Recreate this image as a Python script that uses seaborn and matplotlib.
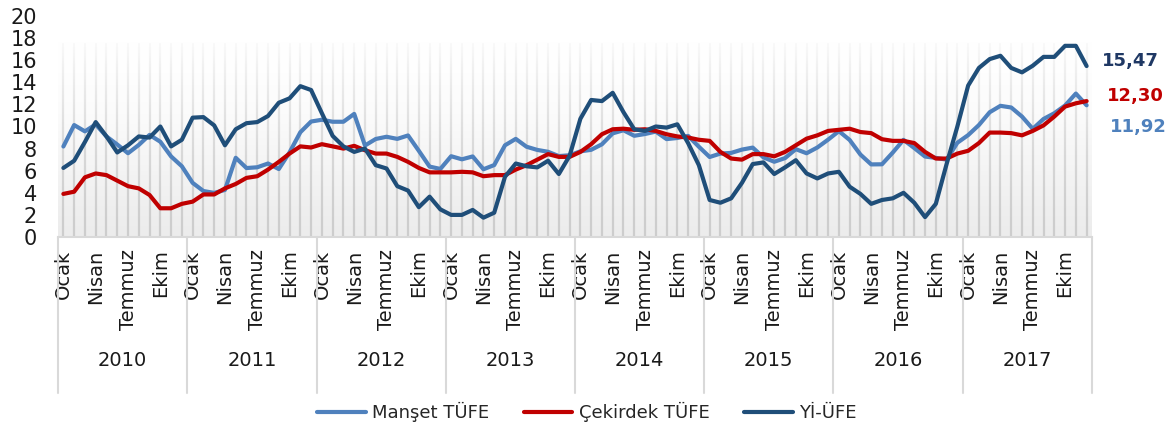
import numpy as np
import pandas as pd
import matplotlib
matplotlib.use("Agg")
import matplotlib.pyplot as plt
import matplotlib.transforms as mtransforms
from matplotlib.colors import LinearSegmentedColormap
from matplotlib.lines import Line2D
import seaborn as sns

## --------------- DATOS ------------- ##

yillar = [2010, 2011, 2012, 2013, 2014, 2015, 2016, 2017]
ay_etiketleri = ["Ocak", "Nisan", "Temmuz", "Ekim"]
seriler = ["Manşet TÜFE", "Çekirdek TÜFE", "Yİ-ÜFE"]

manset = [8.19, 10.13, 9.56, 10.19, 9.10, 8.37, 7.58, 8.33, 9.24, 8.62, 7.29, 6.40,
          4.90, 4.16, 3.99, 4.26, 7.17, 6.24, 6.31, 6.65, 6.15, 7.66, 9.48, 10.45,
          10.61, 10.43, 10.43, 11.14, 8.28, 8.87, 9.07, 8.88, 9.19, 7.80, 6.37, 6.16,
          7.31, 7.03, 7.29, 6.13, 6.51, 8.30, 8.88, 8.17, 7.88, 7.71, 7.32, 7.40,
          7.75, 7.89, 8.39, 9.38, 9.66, 9.16, 9.32, 9.54, 8.86, 8.96, 9.15, 8.17,
          7.24, 7.55, 7.61, 7.91, 8.09, 7.20, 6.81, 7.14, 7.95, 7.58, 8.10, 8.81,
          9.58, 8.78, 7.46, 6.57, 6.58, 7.64, 8.79, 8.05, 7.28, 7.16, 7.00, 8.53,
          9.22, 10.13, 11.29, 11.87, 11.72, 10.90, 9.79, 10.68, 11.20, 11.90, 12.98, 11.92]

cekirdek = [3.90, 4.10, 5.40, 5.75, 5.60, 5.10, 4.60, 4.40, 3.80, 2.60, 2.60, 3.00,
            3.20, 3.85, 3.85, 4.40, 4.80, 5.35, 5.50, 6.10, 6.80, 7.55, 8.20, 8.10,
            8.40, 8.20, 8.00, 8.25, 7.85, 7.55, 7.55, 7.25, 6.80, 6.25, 5.85, 5.85,
            5.85, 5.90, 5.85, 5.50, 5.60, 5.60, 6.10, 6.50, 7.00, 7.50, 7.25, 7.25,
            7.70, 8.40, 9.30, 9.75, 9.80, 9.70, 9.75, 9.60, 9.30, 9.10, 9.00, 8.80,
            8.70, 7.70, 7.10, 7.00, 7.50, 7.50, 7.30, 7.70, 8.30, 8.90, 9.20, 9.60,
            9.70, 9.80, 9.50, 9.40, 8.85, 8.70, 8.70, 8.50, 7.70, 7.10, 7.10, 7.55,
            7.80, 8.50, 9.45, 9.45, 9.40, 9.20, 9.60, 10.10, 10.90, 11.80, 12.10, 12.30]

yiufe = [6.25, 6.90, 8.60, 10.40, 9.10, 7.65, 8.30, 9.10, 9.00, 10.00, 8.20, 8.80,
         10.80, 10.85, 10.10, 8.30, 9.75, 10.30, 10.40, 10.95, 12.15, 12.55, 13.65, 13.30,
         11.20, 9.15, 8.20, 7.70, 8.00, 6.50, 6.20, 4.60, 4.20, 2.70, 3.65, 2.50,
         2.00, 2.00, 2.45, 1.75, 2.20, 5.45, 6.65, 6.40, 6.30, 6.90, 5.70, 7.35,
         10.70, 12.40, 12.30, 13.05, 11.30, 9.75, 9.60, 10.00, 9.90, 10.20, 8.50, 6.50,
         3.35, 3.10, 3.50, 4.90, 6.60, 6.75, 5.70, 6.30, 6.95, 5.75, 5.30, 5.75,
         5.90, 4.55, 3.90, 3.00, 3.35, 3.50, 4.00, 3.10, 1.80, 3.00, 6.60, 10.00,
         13.70, 15.30, 16.10, 16.40, 15.30, 14.90, 15.50, 16.30, 16.30, 17.30, 17.30, 15.47]

son_etiketler = ["11,92", "12,30", "15,47"]

renkler = {"Manşet TÜFE": "#4f81bd", "Çekirdek TÜFE": "#c00000", "Yİ-ÜFE": "#1f4e79"}

n = len(manset)
t = np.arange(n)
df = pd.DataFrame({
    "t": np.tile(t, 3),
    "deger": manset + cekirdek + yiufe,
    "seri": np.repeat(seriler, n),
})

## --------------- GRAFICO ------------- ##

sns.set_theme(style="white")
plt.rcParams['font.family'] = ['DejaVu Sans']

fig = plt.figure(figsize=(11.76, 4.30), dpi=100)
ax = fig.add_axes([58/1176, 1 - 237/430, (1092 - 58)/1176, (237 - 16)/430])

# fondo con degradado + columnas grises
tope = 17.6
grad = np.linspace(0, 1, 256).reshape(-1, 1)
cmap = LinearSegmentedColormap.from_list("fondo", ["#ececec", "#ffffff"])
ax.imshow(grad, extent=(-0.5, n - 0.5, 0, tope), origin="lower", aspect="auto",
          cmap=cmap, zorder=0)
ax.vlines(t, 0, tope, color="#cdcdcd", lw=1.6, zorder=1)
velo = np.ones((256, 1, 4))
velo[:, 0, 3] = np.linspace(0, 1, 256) ** 1.6 * 0.9
ax.imshow(velo, extent=(-0.5, n - 0.5, 0, tope), origin="lower", aspect="auto", zorder=1.5)

sns.lineplot(data=df, x="t", y="deger", hue="seri", hue_order=seriler, palette=renkler,
             linewidth=3, ax=ax, legend=False, zorder=3)

ax.set_xlim(-0.5, n - 0.5)
ax.set_ylim(0, 20)
ax.set_yticks(range(0, 21, 2))
ax.set_xlabel("")
ax.set_ylabel("")

pos = [12*k + m for k in range(len(yillar)) for m in (0, 3, 6, 9)]
ax.set_xticks(pos)
ax.set_xticklabels(ay_etiketleri * len(yillar), rotation=90, va="top", ha="center")
ax.tick_params(axis="x", length=0, pad=9, labelsize=14, colors="#1a1a1a")
ax.tick_params(axis="y", length=0, pad=15, labelsize=15, colors="#1a1a1a")

for s in ["top", "right", "left"]:
    ax.spines[s].set_visible(False)
ax.spines["bottom"].set_color("#d9d9d9")
ax.spines["bottom"].set_linewidth(1.5)

# separadores de años y etiquetas
trans = mtransforms.blended_transform_factory(ax.transData, ax.transAxes)
for k in range(len(yillar) + 1):
    ax.plot([12*k - 0.5, 12*k - 0.5], [0, -0.705], transform=trans, color="#d9d9d9",
            lw=1.5, clip_on=False)
for k, y in enumerate(yillar):
    ax.text(12*k + 5.5, -0.557, str(y), transform=trans, ha="center", va="center",
            fontsize=14, color="#1a1a1a")

# valores finales
ax.text(96.4, 15.9, son_etiketler[2], color="#1f3864", fontweight="bold", fontsize=13,
        va="center", ha="left", clip_on=False)
ax.text(96.9, 12.8, son_etiketler[1], color="#c00000", fontweight="bold", fontsize=13,
        va="center", ha="left", clip_on=False)
ax.text(97.2, 9.95, son_etiketler[0], color="#4f81bd", fontweight="bold", fontsize=13,
        va="center", ha="left", clip_on=False)

handles = [Line2D([0], [0], color=renkler[s], lw=3) for s in seriler]
fig.legend(handles, seriler, loc="center", bbox_to_anchor=(0.499, 0.042), ncol=3,
           frameon=False, fontsize=13, handlelength=2.7, handletextpad=0.35,
           columnspacing=1.9)

fig.savefig("out.png", dpi=100)
